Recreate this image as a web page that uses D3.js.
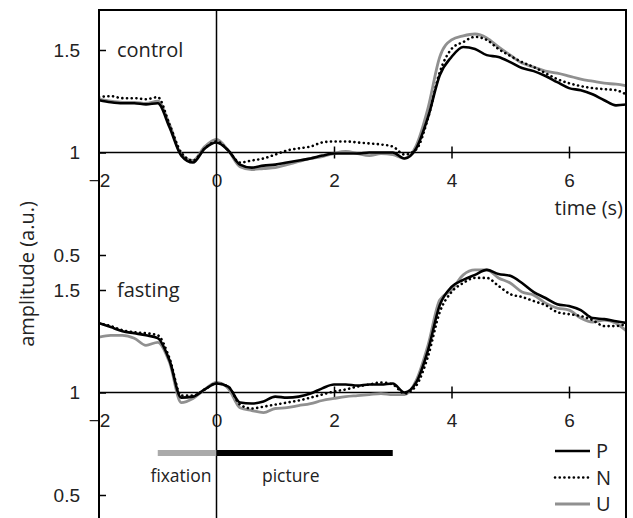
<!DOCTYPE html>
<html>
<head>
<meta charset="utf-8">
<script src="https://cdn.jsdelivr.net/npm/d3@7"></script>
<style>
  body { margin: 0; background: #fff; }
  svg { display: block; font-family: "Open Sans", sans-serif; }
  .axis text { font-size: 19px; fill: #222; }
  .axis path, .axis line { stroke: #000; }
</style>
</head>
<body>
<div id="chart"></div>
<script>
// time grid (s), shared by all traces
const time = d3.range(46).map(i => -2 + i * 0.2)

const controlP = [1.255, 1.245, 1.24, 1.24, 1.235, 1.24, 1.123, 0.985, 0.951, 1.02, 1.049, 1.01, 0.941, 0.926, 0.936, 0.941,
    0.951, 0.961, 0.971, 0.985, 0.995, 0.995, 0.995, 1.0, 1.0, 1.0, 0.971, 1.02, 1.172, 1.377, 1.466, 1.515, 1.505,
    1.475, 1.466, 1.441, 1.412, 1.397, 1.373, 1.343, 1.314, 1.304, 1.284, 1.255, 1.23, 1.235]
const controlN = [1.27, 1.275, 1.265, 1.265, 1.26, 1.27, 1.137, 1.0, 0.961, 1.02, 1.054, 1.01, 0.951, 0.961, 0.971, 0.99,
    1.01, 1.02, 1.029, 1.049, 1.054, 1.054, 1.049, 1.044, 1.039, 1.029, 0.99, 1.015, 1.167, 1.392, 1.505, 1.539, 1.564,
    1.549, 1.505, 1.471, 1.441, 1.417, 1.387, 1.358, 1.338, 1.324, 1.314, 1.309, 1.304, 1.279]
const controlU = [1.26, 1.25, 1.245, 1.245, 1.24, 1.25, 1.137, 0.99, 0.961, 1.029, 1.064, 1.01, 0.931, 0.917, 0.922, 0.926,
    0.941, 0.956, 0.971, 0.98, 0.995, 1.005, 0.995, 0.985, 0.995, 0.99, 0.971, 1.034, 1.216, 1.466, 1.549, 1.569, 1.578,
    1.559, 1.515, 1.475, 1.436, 1.417, 1.397, 1.387, 1.373, 1.358, 1.348, 1.338, 1.333, 1.324]

const fastingP = [1.338, 1.319, 1.299, 1.289, 1.279, 1.265, 1.157, 0.975, 0.98, 1.015, 1.044, 1.029, 0.951, 0.946, 0.956, 0.98,
    0.975, 0.98, 0.995, 1.02, 1.039, 1.039, 1.034, 1.039, 1.039, 1.044, 1.0, 1.049, 1.206, 1.426, 1.515, 1.549, 1.574,
    1.598, 1.578, 1.569, 1.534, 1.49, 1.461, 1.431, 1.422, 1.402, 1.363, 1.358, 1.348, 1.338]
const fastingN = [1.338, 1.324, 1.304, 1.294, 1.289, 1.279, 1.167, 0.985, 0.985, 1.015, 1.044, 1.029, 0.941, 0.922, 0.931, 0.941,
    0.951, 0.961, 0.975, 0.99, 1.005, 1.015, 1.029, 1.039, 1.049, 1.039, 0.995, 1.034, 1.176, 1.392, 1.49, 1.534, 1.559,
    1.559, 1.52, 1.48, 1.466, 1.446, 1.426, 1.392, 1.382, 1.373, 1.353, 1.324, 1.324, 1.338]
const fastingU = [1.27, 1.279, 1.279, 1.265, 1.23, 1.245, 1.147, 0.951, 0.971, 1.015, 1.049, 1.02, 0.926, 0.912, 0.902, 0.922,
    0.926, 0.936, 0.946, 0.961, 0.971, 0.98, 0.985, 0.99, 0.995, 0.99, 0.99, 1.059, 1.23, 1.451, 1.5, 1.574, 1.598,
    1.598, 1.559, 1.534, 1.49, 1.475, 1.436, 1.412, 1.402, 1.363, 1.343, 1.353, 1.338, 1.294]

const panels = [
    {name: 'control', P: controlP, N: controlN, U: controlU},
    {name: 'fasting', P: fastingP, N: fastingN, U: fastingU}
]
const legendLabels = ['P', 'N', 'U']
const xTicks = [-2, 0, 2, 4, 6]
const yTicks = [0.5, 1, 1.5]
// stimulus periods: [label, start, end]
const periods = [['fixation', -1, 0], ['picture', 0, 3]]

const width = 633
const height = 518
const plotLeft = 99, plotRight = 626, plotTop = 10

const styles = {
    P: {stroke: '#000', width: 2.6, dash: null},
    N: {stroke: '#000', width: 2.6, dash: '0.1,4.6'},
    U: {stroke: '#909090', width: 2.8, dash: null}
}

const svg = d3.select('#chart').append('svg')
    .attr('width', width)
    .attr('height', height)

const x = d3.scaleLinear().domain([-2, 6]).range([plotLeft, 569])

svg.append('clipPath').attr('id', 'clip')
    .append('rect').attr('x', plotLeft).attr('y', plotTop)
    .attr('width', plotRight - plotLeft).attr('height', height - plotTop)

const panelTops = [50, 290]

panels.forEach((panel, i) => {
    const y = d3.scaleLinear().domain([0.5, 1.5]).range([panelTops[i] + 205, panelTops[i]])

    // y axis, ticks pointing inward
    svg.append('g').attr('class', 'axis')
        .attr('transform', `translate(${plotLeft},0)`)
        .call(d3.axisLeft(y).tickValues(yTicks).tickSize(-7).tickPadding(19).tickFormat(d3.format('')))
        .call(g => g.select('.domain').remove())
        .call(g => g.selectAll('line').attr('stroke-width', 1.5))

    // x axis through amplitude 1
    const xa = svg.append('g').attr('class', 'axis')
        .attr('transform', `translate(0,${y(1)})`)
        .call(d3.axisBottom(x).tickValues(xTicks).tickSize(0).tickSizeOuter(0).tickPadding(21))
    xa.select('.domain').attr('d', `M${plotLeft},0H${plotRight}`).attr('stroke-width', 1.5)
    xa.selectAll('.tick').filter(d => d > 0).select('line')
        .attr('y1', -6).attr('y2', 6).attr('stroke-width', 1.5)

    svg.append('text')
        .attr('x', 117).attr('y', y(1.5))
        .attr('dy', '0.35em')
        .attr('font-size', 20)
        .attr('fill', '#222')
        .text(panel.name)

    const line = d3.line()
        .x((d, j) => x(time[j]))
        .y(d => y(d))
        .curve(d3.curveMonotoneX)

    ;['U', 'P', 'N'].forEach(key => {
        svg.append('path')
            .attr('clip-path', 'url(#clip)')
            .attr('d', line(panel[key]))
            .attr('fill', 'none')
            .attr('stroke', styles[key].stroke)
            .attr('stroke-width', styles[key].width)
            .attr('stroke-linecap', styles[key].dash ? 'round' : 'butt')
            .attr('stroke-dasharray', styles[key].dash)
    })
})

// frame and stimulus onset line
svg.append('path')
    .attr('d', `M${plotLeft},${height}V${plotTop}H${plotRight}V${height}`)
    .attr('fill', 'none').attr('stroke', '#000').attr('stroke-width', 2)
svg.append('line')
    .attr('x1', x(0)).attr('x2', x(0)).attr('y1', plotTop).attr('y2', height)
    .attr('stroke', '#000').attr('stroke-width', 1.5)

svg.append('text')
    .attr('x', 623).attr('y', 208).attr('dy', '0.35em')
    .attr('text-anchor', 'end').attr('font-size', 20).attr('fill', '#222')
    .text('time (s)')

svg.append('text')
    .attr('transform', 'translate(27,274) rotate(-90)')
    .attr('text-anchor', 'middle').attr('dy', '0.35em')
    .attr('font-size', 20).attr('fill', '#222')
    .text('amplitude (a.u.)')

// stimulus bars
const barColors = ['#aaaaaa', '#000']
periods.forEach(([label, t0, t1], i) => {
    svg.append('line')
        .attr('x1', x(t0)).attr('x2', x(t1)).attr('y1', 453).attr('y2', 453)
        .attr('stroke', barColors[i]).attr('stroke-width', 6)
})
svg.append('text')
    .attr('x', x(0) - 5).attr('y', 476).attr('dy', '0.35em')
    .attr('text-anchor', 'end').attr('font-size', 17.5).attr('fill', '#222')
    .text(periods[0][0])
svg.append('text')
    .attr('x', 262).attr('y', 476).attr('dy', '0.35em')
    .attr('font-size', 17.5).attr('fill', '#222')
    .text(periods[1][0])

// legend
legendLabels.forEach((key, i) => {
    const ly = 451 + i * 26.5
    svg.append('line')
        .attr('x1', 555).attr('x2', 590).attr('y1', ly).attr('y2', ly)
        .attr('stroke', styles[key].stroke)
        .attr('stroke-width', styles[key].width)
        .attr('stroke-linecap', styles[key].dash ? 'round' : 'butt')
        .attr('stroke-dasharray', styles[key].dash)
    svg.append('text')
        .attr('x', 596).attr('y', ly).attr('dy', '0.35em')
        .attr('font-size', 20).attr('fill', '#222')
        .text(key)
})
</script>
</body>
</html>
